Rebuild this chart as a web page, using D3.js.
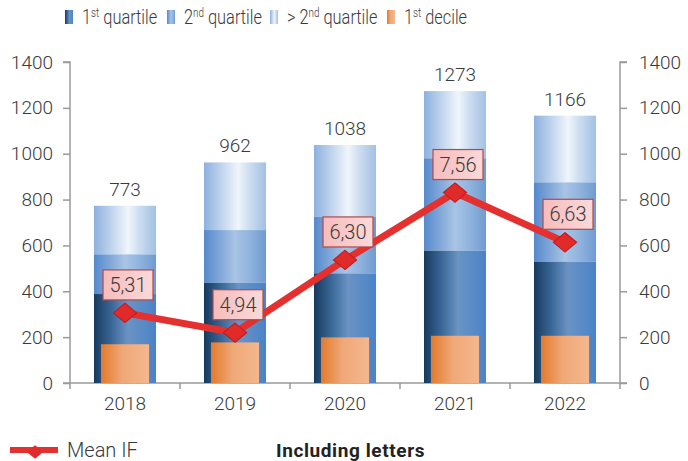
<!DOCTYPE html>
<html>
<head>
<meta charset="utf-8">
<script src="https://cdn.jsdelivr.net/npm/d3@7"></script>
<style>
  body { margin: 0; background: #fff; }
  svg { font-family: Roboto, "Noto Sans", sans-serif; }
</style>
</head>
<body>
<div id="chart"></div>
<script>
/* globals d3 */

// values
const years = ["2018", "2019", "2020", "2021", "2022"];
const decile1 = [169, 177, 199, 206, 206];
const quartile1 = [388, 437, 478, 577, 529];
const quartile2 = [561, 667, 725, 980, 875];
const totals = [773, 962, 1038, 1273, 1166];
const meanIF = [5.31, 4.94, 6.30, 7.56, 6.63];
const yTicks = [0, 200, 400, 600, 800, 1000, 1200, 1400];

const width = 688;
const height = 461;
const plotLeft = 70, plotRight = 620, plotTop = 62, plotBottom = 383;

const svg = d3
  .select("#chart")
  .append("svg")
  .attr("width", width)
  .attr("height", height);

const defs = svg.append("defs");

function gradient(id, stops) {
  const g = defs.append("linearGradient")
    .attr("id", id)
    .attr("x1", 0).attr("x2", 1).attr("y1", 0).attr("y2", 0);
  stops.forEach(s => g.append("stop").attr("offset", s[0]).attr("stop-color", s[1]));
}
gradient("gq1", [[0, "#163a5e"], [0.3, "#3d6a9a"], [0.55, "#6b93c4"], [1, "#4a83c8"]]);
gradient("gq2", [[0, "#5589cc"], [0.5, "#a9c4e5"], [0.75, "#8eb2dd"], [1, "#6f9bd2"]]);
gradient("gq3", [[0, "#8db1de"], [0.55, "#f0f5fb"], [0.75, "#c9dbef"], [1, "#a3c0e3"]]);
gradient("gdec", [[0, "#e37a2c"], [0.45, "#f0a878"], [1, "#f4b78e"]]);
gradient("glab", [[0, "#f7bcbc"], [1, "#fbd9d9"]]);

const x = d3.scaleBand()
  .domain(years)
  .range([plotLeft, plotRight])
  .paddingInner(0.436)
  .paddingOuter(0.218);

const y = d3.scaleLinear().domain([0, 1400]).range([plotBottom, plotTop]);
const yIF = d3.scaleLinear().domain([4, 10]).range([plotBottom, plotTop]);

const axisColor = "#9a9a9a";
const textColor = "#3a3a3a";

// axes
const leftAxis = svg.append("g")
  .attr("transform", `translate(${plotLeft},0)`)
  .call(d3.axisLeft(y).tickValues(yTicks).tickFormat(d3.format("d")).tickSize(7).tickPadding(10));
const rightAxis = svg.append("g")
  .attr("transform", `translate(${plotRight},0)`)
  .call(d3.axisRight(y).tickValues(yTicks).tickFormat(d3.format("d")).tickSize(7).tickPadding(12));

[leftAxis, rightAxis].forEach(a => {
  a.select(".domain").attr("stroke", axisColor).attr("stroke-width", 1.5)
    .attr("d", a === leftAxis ? `M-7,${plotTop}H0V${plotBottom}` : `M7,${plotTop}H0V${plotBottom}`);
  a.selectAll(".tick line").attr("stroke", axisColor).attr("stroke-width", 1.5);
  a.selectAll(".tick text")
    .attr("fill", textColor)
    .style("font-size", "19px")
    .style("font-weight", 300)
    .style("font-family", "Roboto");
});

// x axis baseline with separators
svg.append("line")
  .attr("x1", plotLeft - 7).attr("x2", plotRight + 7)
  .attr("y1", plotBottom).attr("y2", plotBottom)
  .attr("stroke", axisColor).attr("stroke-width", 1.5);
const seps = years.map(d => x(d) - x.step() * 0.218).concat([plotRight]);
svg.selectAll(".sep")
  .data(seps)
  .join("line")
  .attr("x1", d => d).attr("x2", d => d)
  .attr("y1", plotBottom).attr("y2", plotBottom + 6)
  .attr("stroke", axisColor).attr("stroke-width", 1.5);

svg.selectAll(".year")
  .data(years)
  .join("text")
  .attr("x", d => x(d) + x.bandwidth() / 2)
  .attr("y", 410)
  .attr("text-anchor", "middle")
  .attr("fill", textColor)
  .style("font-size", "19px")
  .style("font-weight", 300)
  .text(d => d);

// stacked bars
const stacks = [
  { fill: "url(#gq3)", lo: quartile2, hi: totals },
  { fill: "url(#gq2)", lo: quartile1, hi: quartile2 },
  { fill: "url(#gq1)", lo: years.map(() => 0), hi: quartile1 },
];
stacks.forEach(s => {
  svg.append("g")
    .selectAll("rect")
    .data(years)
    .join("rect")
    .attr("x", d => x(d))
    .attr("width", x.bandwidth())
    .attr("y", (d, i) => y(s.hi[i]))
    .attr("height", (d, i) => y(s.lo[i]) - y(s.hi[i]))
    .attr("fill", s.fill);
});

const inset = 7;
svg.append("g")
  .selectAll("rect")
  .data(years)
  .join("rect")
  .attr("x", d => x(d) + inset)
  .attr("width", x.bandwidth() - inset * 2)
  .attr("y", (d, i) => y(decile1[i]))
  .attr("height", (d, i) => y(0) - y(decile1[i]))
  .attr("fill", "url(#gdec)");

// totals above bars
svg.selectAll(".total")
  .data(years)
  .join("text")
  .attr("x", d => x(d) + x.bandwidth() / 2)
  .attr("y", (d, i) => y(totals[i]) - 10)
  .attr("text-anchor", "middle")
  .attr("fill", textColor)
  .style("font-size", "19px")
  .style("font-weight", 300)
  .text((d, i) => totals[i]);

// mean IF line
const cx = d => x(d) + x.bandwidth() / 2;
const line = d3.line()
  .x(d => cx(d.year))
  .y(d => yIF(d.v));
const ifData = years.map((d, i) => ({ year: d, v: meanIF[i] }));

svg.append("path")
  .datum(ifData)
  .attr("d", line)
  .attr("fill", "none")
  .attr("stroke", "#e4302e")
  .attr("stroke-width", 7)
  .attr("stroke-linejoin", "round");

const diamond = d3.symbol().type(d3.symbolDiamond2 || d3.symbolDiamond).size(240);
svg.selectAll(".marker")
  .data(ifData)
  .join("path")
  .attr("transform", d => `translate(${cx(d.year)},${yIF(d.v)}) scale(1.2,1)`)
  .attr("d", diamond)
  .attr("fill", "#e12a2a")
  .attr("stroke", "#c01e1e")
  .attr("stroke-width", 1);

// value labels
const fmt = v => d3.format(".2f")(v).replace(".", ",");
const lab = svg.selectAll(".lab")
  .data(ifData)
  .join("g")
  .attr("transform", d => `translate(${cx(d.year) + 3},${yIF(d.v) - 28})`);
lab.append("rect")
  .attr("x", -25).attr("y", -15)
  .attr("width", 50).attr("height", 30)
  .attr("fill", "url(#glab)")
  .attr("stroke", "#b04a4a")
  .attr("stroke-width", 1.2);
lab.append("text")
  .attr("text-anchor", "middle")
  .attr("y", 7)
  .attr("fill", textColor)
  .style("font-size", "20px")
  .style("font-weight", 300)
  .text(d => fmt(d.v));

// top legend
const legendItems = [
  { fill: "url(#gq1)", x: 65, parts: [["1", false], ["st", true], [" quartile", false]] },
  { fill: "url(#gq2)", x: 167, parts: [["2", false], ["nd", true], [" quartile", false]] },
  { fill: "url(#gq3)", x: 270, parts: [["> 2", false], ["nd", true], [" quartile", false]] },
  { fill: "url(#gdec)", x: 387, parts: [["1", false], ["st", true], [" decile", false]] },
];
const lg = svg.selectAll(".leg")
  .data(legendItems)
  .join("g")
  .attr("transform", d => `translate(${d.x},10)`);
lg.append("rect")
  .attr("width", 8).attr("height", 14)
  .attr("fill", d => d.fill);
const lt = lg.append("text")
  .attr("transform", "translate(17,14) scale(0.82,1)")
  .attr("fill", textColor)
  .style("font-size", "20px")
  .style("font-weight", 300);
lt.each(function (d) {
  const t = d3.select(this);
  let raised = false;
  d.parts.forEach(p => {
    let dy = 0;
    if (p[1] && !raised) { dy = -7; raised = true; }
    else if (!p[1] && raised) { dy = 7; raised = false; }
    t.append("tspan")
      .attr("dy", dy)
      .style("font-size", p[1] ? "12px" : null)
      .text(p[0]);
  });
});

// bottom legend
svg.append("line")
  .attr("x1", 10).attr("x2", 58)
  .attr("y1", 450).attr("y2", 450)
  .attr("stroke", "#e4302e").attr("stroke-width", 6);
svg.append("path")
  .attr("transform", "translate(35,452) scale(1.2,1)")
  .attr("d", d3.symbol().type(d3.symbolDiamond2 || d3.symbolDiamond).size(120))
  .attr("fill", "#e12a2a");
svg.append("text")
  .attr("x", 67).attr("y", 457)
  .attr("fill", textColor)
  .style("font-size", "20px")
  .style("font-weight", 300)
  .text("Mean IF");
svg.append("text")
  .attr("x", 276).attr("y", 457)
  .attr("fill", "#222")
  .style("font-size", "19px")
  .style("font-weight", 700)
  .style("letter-spacing", "0.6px")
  .text("Including letters");
</script>
</body>
</html>
